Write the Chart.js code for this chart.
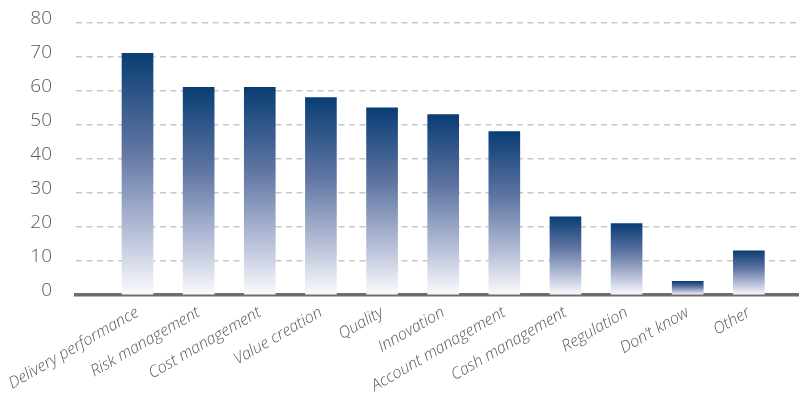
<!DOCTYPE html>
<html>
<head>
<meta charset="utf-8">
<script src="https://cdn.jsdelivr.net/npm/chart.js@4"></script>
<style>
  html, body { margin: 0; padding: 0; background: #ffffff; overflow: hidden; }
  #wrap { width: 799px; height: 399px; position: relative; }
</style>
</head>
<body>
<div id="wrap"><canvas id="c" width="799" height="399"></canvas></div>
<script>
const categories = ["Delivery performance", "Risk management", "Cost management", "Value creation", "Quality", "Innovation", "Account management", "Cash management", "Regulation", "Don\u2019t know", "Other"];
const values = [71, 61, 61, 58, 55, 53, 48, 23, 21, 4, 13];
const yTicks = [0, 10, 20, 30, 40, 50, 60, 70, 80];

function barGradient(ctx) {
  const chart = ctx.chart;
  const y = chart.scales && chart.scales.y;
  if (!y || ctx.type !== 'data') return '#0a3e75';
  const top = y.getPixelForValue(ctx.raw.y);
  const bottom = y.getPixelForValue(0);
  if (!isFinite(top) || !isFinite(bottom) || top === bottom) return '#0a3e75';
  const g = chart.ctx.createLinearGradient(0, top, 0, bottom);
  g.addColorStop(0, '#093d74');
  g.addColorStop(0.4, '#5f75a2');
  g.addColorStop(0.75, '#b9c1d9');
  g.addColorStop(1, '#fbfbfd');
  return g;
}

new Chart(document.getElementById('c'), {
  type: 'bar',
  data: {
    datasets: [{
      data: values.map((v, i) => ({ x: i, y: v })),
      backgroundColor: barGradient,
      borderWidth: 0,
      barThickness: 31
    }]
  },
  options: {
    responsive: false,
    animation: false,
    layout: { padding: { top: 0, right: 0, left: 0, bottom: 0 } },
    plugins: { legend: { display: false }, tooltip: { enabled: false }, title: { display: false } },
    scales: {
      x: {
        type: 'linear',
        offset: false,
        bounds: 'data',
        min: -1.006,
        max: 10.82,
        grid: { display: false },
        border: { display: true, color: '#6d6d6d', width: 3.5 },
        afterBuildTicks: s => { s.ticks = categories.map((_, i) => ({ value: i })); },
        afterFit: s => { s.height = 104; s.paddingTop = 0; s.paddingBottom = 0; },
        ticks: {
          autoSkip: false,
          minRotation: 30,
          maxRotation: 30,
          padding: 0,
          color: '#585858',
          font: { family: 'Open Sans', size: 16, style: 'italic', weight: 300 },
          callback: v => categories[v] !== undefined ? categories[v] : ''
        }
      },
      y: {
        min: 0,
        max: 80,
        afterBuildTicks: s => { s.ticks = yTicks.map(v => ({ value: v })); },
        afterFit: s => { s.width = 76; s.paddingTop = 22.7; s.paddingBottom = 0; },
        grid: { color: '#c8c8c8', lineWidth: 1.5, drawTicks: false },
        border: { display: false, dash: [6, 4.5] },
        ticks: {
          padding: 24,
          labelOffset: -4,
          color: '#5a5a5a',
          font: { family: 'Open Sans', size: 19, weight: 300 }
        }
      }
    }
  }
});
</script>
</body>
</html>
